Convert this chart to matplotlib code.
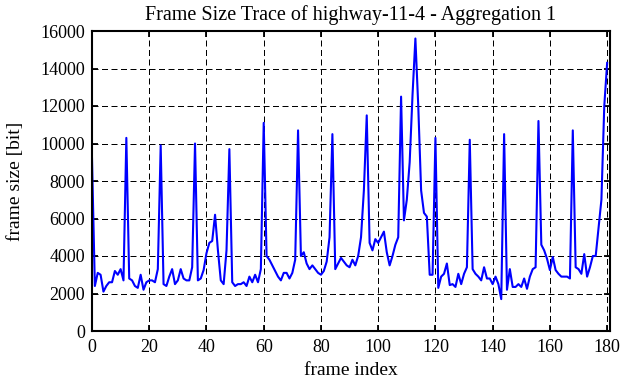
import matplotlib
matplotlib.use("Agg")
import matplotlib.pyplot as plt
import numpy as np

frame_size = [
    9200, 2400, 3100, 3000, 2100, 2400, 2600, 2600, 3200, 3000,   # 0-9
    3300, 2700, 10300, 2800, 2700, 2400, 2300, 3000, 2200, 2600,  # 10-19
    2700, 2700, 2600, 3300, 9900, 2500, 2400, 2900, 3300, 2500,   # 20-29
    2700, 3300, 2800, 2700, 2700, 3400, 10000, 2700, 2800, 3250,  # 30-39
    4150, 4700, 4800, 6200, 4300, 2700, 2500, 4300, 9700, 2600,   # 40-49
    2400, 2500, 2500, 2600, 2400, 2900, 2600, 3000, 2600, 3300,   # 50-59
    11100, 4000, 3800, 3500, 3200, 2900, 2700, 3100, 3100, 2800,  # 60-69
    3100, 3800, 10700, 4000, 4200, 3600, 3300, 3500, 3300, 3100,  # 70-79
    3000, 3200, 3700, 5000, 10500, 3300, 3600, 3900, 3700, 3500,  # 80-89
    3400, 3800, 3500, 4000, 5000, 7500, 11500, 4700, 4300, 4900,  # 90-99
    4700, 5000, 5300, 4200, 3500, 4000, 4600, 5000, 12500, 5900,  # 100-109
    7000, 9000, 12600, 15600, 12000, 7500, 6300, 6100, 3000, 3000,  # 110-119
    10300, 2300, 2900, 3050, 3600, 2450, 2500, 2350, 3050, 2500,  # 120-129
    3050, 3400, 10200, 3300, 3050, 2900, 2700, 3400, 2800, 2800,  # 130-139
    2500, 2900, 2500, 1700, 10500, 2200, 3300, 2350, 2350, 2500,  # 140-149
    2350, 2800, 2250, 2900, 3300, 3400, 11200, 4600, 4300, 3850,  # 150-159
    3250, 3950, 3250, 3050, 2900, 2900, 2900, 2800, 10700, 3400,  # 160-169
    3300, 3050, 4100, 2900, 3400, 4000, 4000, 5500, 7000, 12000,  # 170-179
    14300,                                                        # 180
]
frame_index = list(range(len(frame_size)))

x_ticks = [0, 20, 40, 60, 80, 100, 120, 140, 160, 180]
y_ticks = [0, 2000, 4000, 6000, 8000, 10000, 12000, 14000, 16000]

plt.rcParams['font.family'] = ['Liberation Serif', 'DejaVu Serif']

fig = plt.figure(figsize=(6.23, 3.82), dpi=100)
ax = fig.add_axes([92/623, 1-331/382, (610-92)/623, (331-31)/382])

ax.plot(frame_index, frame_size, color='#0000ff', linewidth=1.5)

ax.set_xlim(0, 181)
ax.set_ylim(0, 16000)
ax.set_xticks(x_ticks)
ax.set_yticks(y_ticks)
ax.grid(True, color='black', linestyle=(0, (6, 3.5)), linewidth=0.72)
ax.tick_params(direction='in', top=True, right=True, length=4.5, width=1.3,
               labelsize=13, pad=5)
ax.tick_params(axis='x', pad=6)
for s in ax.spines.values():
    s.set_linewidth(1.5)

ax.set_title('Frame Size Trace of highway-11-4 - Aggregation 1', fontsize=14.5, pad=8)
ax.set_xlabel('frame index', fontsize=14, labelpad=4)
ax.set_ylabel('frame size [bit]', fontsize=14, labelpad=12)

fig.savefig('out.png', dpi=100)
